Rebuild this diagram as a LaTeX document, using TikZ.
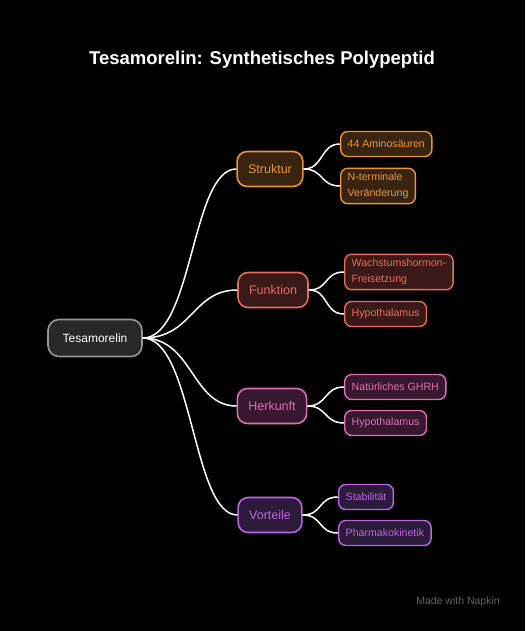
\documentclass[tikz,border=0pt]{standalone}
\usepackage{fontspec}
\setmainfont{Liberation Sans}
\definecolor{bgblack}{RGB}{0, 0, 0}
\definecolor{rootgray}{RGB}{40, 40, 40}
\definecolor{rootline}{RGB}{150, 150, 150}
\definecolor{strukorange}{RGB}{236, 148, 60}
\definecolor{strukfill}{RGB}{56, 36, 16}
\definecolor{funkred}{RGB}{230, 108, 96}
\definecolor{funkfill}{RGB}{58, 26, 24}
\definecolor{herkpink}{RGB}{222, 110, 180}
\definecolor{herkfill}{RGB}{56, 24, 46}
\definecolor{vortpurple}{RGB}{190, 100, 226}
\definecolor{vortfill}{RGB}{44, 26, 58}
\definecolor{markgray}{RGB}{100, 100, 100}
\usetikzlibrary{positioning, calc}

\begin{document}
\begin{tikzpicture}[x=1pt, y=-1pt,
    rootbox/.style={draw=rootline, fill=rootgray, line width=1.6pt, rounded corners=11pt,
      minimum height=37pt, minimum width=94pt, text=white, font=\fontsize{12}{14}\selectfont},
    catbox/.style={draw=#1, line width=1.6pt, rounded corners=10pt, minimum height=35pt,
      inner xsep=11pt, text=#1, font=\fontsize{12.5}{14}\selectfont},
    leafbox/.style={draw=#1, line width=1.4pt, rounded corners=7pt, minimum height=25pt,
      inner xsep=7pt, inner ysep=5pt, align=left, text=#1, font=\fontsize{10.6}{15.5}\selectfont},
    link/.style={draw=white, line width=1.5pt}]
  \useasboundingbox[fill=bgblack] (0,0) rectangle (525,631);

  % title
  \node[text=white, font=\bfseries\fontsize{18.5}{22}\selectfont] (title) at (262,60)
    {Tesamorelin: Synthetisches Polypeptid};

  % root
  \node[rootbox] (root) at (95,338) {Tesamorelin};

  % categories
  \node[catbox=strukorange, fill=strukfill] (struktur) at (270,169) {Struktur};
  \node[catbox=funkred, fill=funkfill] (funktion) at (273,290) {Funktion};
  \node[catbox=herkpink, fill=herkfill] (herkunft) at (272,406) {Herkunft};
  \node[catbox=vortpurple, fill=vortfill] (vorteile) at (270,515) {Vorteile};

  % leaves
  \node[leafbox=strukorange, fill=strukfill, anchor=west] (amino) at (340,144) {44 Aminosäuren};
  \node[leafbox=strukorange, fill=strukfill, anchor=west] (nterm) at (340,186) {N-terminale\\Veränderung};
  \node[leafbox=funkred, fill=funkfill, anchor=west] (wachs) at (344,272) {Wachstumshormon-\\Freisetzung};
  \node[leafbox=funkred, fill=funkfill, anchor=west] (hypoa) at (344,314) {Hypothalamus};
  \node[leafbox=herkpink, fill=herkfill, anchor=west] (ghrh) at (344,387) {Natürliches GHRH};
  \node[leafbox=herkpink, fill=herkfill, anchor=west] (hypob) at (344,423) {Hypothalamus};
  \node[leafbox=vortpurple, fill=vortfill, anchor=west] (stabil) at (338,497) {Stabilität};
  \node[leafbox=vortpurple, fill=vortfill, anchor=west] (pharma) at (338,533) {Pharmakokinetik};

  % links root -> categories
  \foreach \c in {struktur, funktion, herkunft, vorteile}
    \draw[link] (root.east) .. controls +(50,0) and +(-45,0) .. (\c.west);

  % links categories -> leaves
  \foreach \c/\l in {struktur/amino, struktur/nterm, funktion/wachs, funktion/hypoa,
                     herkunft/ghrh, herkunft/hypob, vorteile/stabil, vorteile/pharma}
    \draw[link] (\c.east) .. controls +(20,0) and +(-20,0) .. (\l.west);

  % watermark
  \node[text=markgray, font=\fontsize{10.5}{12}\selectfont] (mark) at (458,602) {Made with Napkin};
\end{tikzpicture}
\end{document}
